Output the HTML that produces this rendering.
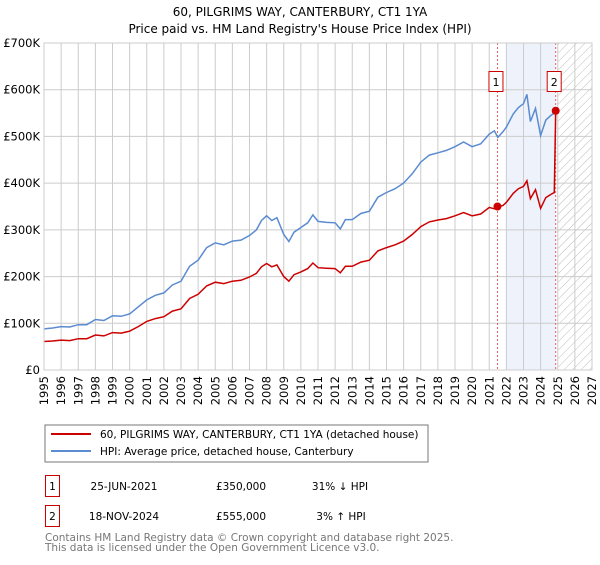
<!DOCTYPE html>
<html><head><meta charset="utf-8"><style>
body{margin:0;background:#fff;font-family:"Liberation Sans","DejaVu Sans",sans-serif;}
svg text{font-family:"DejaVu Sans","Liberation Sans",sans-serif;}
</style></head><body>
<svg id="c" width="600" height="560" viewBox="0 0 600 560" xmlns="http://www.w3.org/2000/svg">
<defs><pattern id="hatch" width="6" height="6" patternUnits="userSpaceOnUse" patternTransform="rotate(45)"><line x1="0" y1="0" x2="0" y2="6" stroke="#bbb" stroke-width="1"/></pattern></defs>
<text x="300" y="16" text-anchor="middle" font-size="12">60, PILGRIMS WAY, CANTERBURY, CT1 1YA</text>
<text x="300" y="33" text-anchor="middle" font-size="12">Price paid vs. HM Land Registry's House Price Index (HPI)</text>
<g id="plot"></g>
<rect x="45" y="425" width="383" height="37" fill="#fff" stroke="#777"/>
<line x1="51" y1="434" x2="91" y2="434" stroke="#cc0000" stroke-width="2"/>
<text x="100" y="438" font-size="10.5">60, PILGRIMS WAY, CANTERBURY, CT1 1YA (detached house)</text>
<line x1="51" y1="451" x2="91" y2="451" stroke="#5b8bd0" stroke-width="2"/>
<text x="100" y="455" font-size="10.5">HPI: Average price, detached house, Canterbury</text>
<g font-size="10.5">
<rect x="45.5" y="475.5" width="14" height="21" fill="#fff" stroke="#cc0000"/><text x="52.5" y="490" text-anchor="middle">1</text>
<text x="124" y="490" text-anchor="middle">25-JUN-2021</text><text x="241" y="490" text-anchor="middle">£350,000</text><text x="340" y="490" text-anchor="middle">31% ↓ HPI</text>
<rect x="45.5" y="505.5" width="14" height="21" fill="#fff" stroke="#cc0000"/><text x="52.5" y="520" text-anchor="middle">2</text>
<text x="124" y="520" text-anchor="middle">18-NOV-2024</text><text x="241" y="520" text-anchor="middle">£555,000</text><text x="341" y="520" text-anchor="middle">3% ↑ HPI</text>
</g>
<text x="45" y="541" font-size="10.5" fill="#777">Contains HM Land Registry data © Crown copyright and database right 2025.</text>
<text x="45" y="551" font-size="10.5" fill="#777">This data is licensed under the Open Government Licence v3.0.</text>
</svg>
<script>
const hpiDates=[1995,1995.5,1996,1996.5,1997,1997.5,1998,1998.5,1999,1999.5,2000,2000.5,2001,2001.5,2002,2002.5,2003,2003.5,2004,2004.5,2005,2005.5,2006,2006.5,2007,2007.4,2007.7,2008,2008.3,2008.6,2009,2009.3,2009.6,2010,2010.4,2010.7,2011,2011.5,2012,2012.3,2012.6,2013,2013.5,2014,2014.5,2015,2015.5,2016,2016.5,2017,2017.5,2018,2018.5,2019,2019.5,2020,2020.5,2021,2021.3,2021.5,2021.8,2022,2022.4,2022.7,2023,2023.2,2023.4,2023.7,2024,2024.3,2024.6,2024.88];
const hpiValues=[88,90,93,92,97,97,108,106,116,115,120,135,150,160,165,182,190,222,235,262,272,268,276,278,288,300,320,330,320,326,290,275,295,305,315,332,318,316,315,302,322,322,335,340,370,380,388,400,420,445,460,465,470,478,488,478,484,505,512,498,510,520,548,562,570,590,532,560,502,535,545,552];
const ppDates=[1995,1995.5,1996,1996.5,1997,1997.5,1998,1998.5,1999,1999.5,2000,2000.5,2001,2001.5,2002,2002.5,2003,2003.5,2004,2004.5,2005,2005.5,2006,2006.5,2007,2007.4,2007.7,2008,2008.3,2008.6,2009,2009.3,2009.6,2010,2010.4,2010.7,2011,2011.5,2012,2012.3,2012.6,2013,2013.5,2014,2014.5,2015,2015.5,2016,2016.5,2017,2017.5,2018,2018.5,2019,2019.5,2020,2020.5,2021,2021.3,2021.48,2021.8,2022,2022.4,2022.7,2023,2023.2,2023.4,2023.7,2024,2024.3,2024.6,2024.8,2024.88];
const ppValues=[61,62,64,63,67,67,75,73,80,79,83,93,104,110,114,126,131,153,162,180,188,185,190,192,199,207,221,228,221,225,200,190,204,210,217,229,219,218,217,208,222,222,231,235,255,262,268,276,290,307,317,321,324,330,337,330,334,348,345,350,352,359,378,388,393,405,367,386,346,369,376,380,555];
const sales=[[2021.48,350],[2024.88,555]];
const yTicks=[0,100,200,300,400,500,600,700];
const yLabels=["£0","£100K","£200K","£300K","£400K","£500K","£600K","£700K"];
const NS="http://www.w3.org/2000/svg";
const X=t=>44+(t-1995)*17.125, Y=v=>370-v*(327/700);
const g=document.getElementById('plot');
function mk(tag,attrs,parent){const e=document.createElementNS(NS,tag);for(const k in attrs)e.setAttribute(k,attrs[k]);(parent||g).appendChild(e);return e;}
let e;
e=mk('rect',{x:X(2022),y:Y(700),width:X(sales[1][0])-X(2022),height:Y(0)-Y(700),fill:'#eef2fb'});


e=mk('rect',{x:X(2025),y:Y(700),width:X(2027)-X(2025),height:Y(0)-Y(700),fill:'url(#hatch)'});


for(let i=0;i<yTicks.length;i++){
 e=mk('line',{x1:X(1995),x2:X(2027),y1:Y(yTicks[i]),y2:Y(yTicks[i]),stroke:'#ccc'});
 
 
 e=mk('text',{x:40,y:Y(yTicks[i])+4,'text-anchor':'end','font-size':'11.5'});e.textContent=yLabels[i];
 
 
}
for(let yr=1995;yr<=2027;yr++){
 e=mk('line',{x1:X(yr),x2:X(yr),y1:Y(700),y2:Y(0),stroke:'#ccc'});
 
 
 e=mk('text',{x:0,y:0,'text-anchor':'end','font-size':'11.5',transform:`translate(${X(yr)+4},376) rotate(-90)`});e.textContent=yr;
 
 
}
sales.forEach((s,i)=>{
 e=mk('line',{x1:X(s[0]),x2:X(s[0]),y1:Y(700),y2:Y(0),stroke:'#e06060','stroke-dasharray':'2,2'});
 
 
});
function path(d,v){return d.map((t,i)=>(i?'L':'M')+X(t).toFixed(1)+','+Y(v[i]).toFixed(1)).join('');}
e=mk('path',{d:path(hpiDates,hpiValues),fill:'none',stroke:'#5b8bd0','stroke-width':1.5});


e=mk('path',{d:path(ppDates,ppValues),fill:'none',stroke:'#cc0000','stroke-width':1.5});


sales.forEach((s,i)=>{
 e=mk('circle',{cx:X(s[0]),cy:Y(s[1]),r:4,fill:'#cc0000'});
 
 
 e=mk('rect',{x:X(s[0])-8.5,y:71.5,width:14,height:20,fill:'#fff',stroke:'#cc0000'});
 
 
 e=mk('text',{x:X(s[0])-1.5,y:86,'text-anchor':'middle','font-size':'11'});e.textContent=String(i+1);
 
 
});
e=mk('rect',{x:X(1995),y:Y(700),width:X(2027)-X(1995),height:Y(0)-Y(700),fill:'none',stroke:'#ccc'});


</script>
</body></html>
